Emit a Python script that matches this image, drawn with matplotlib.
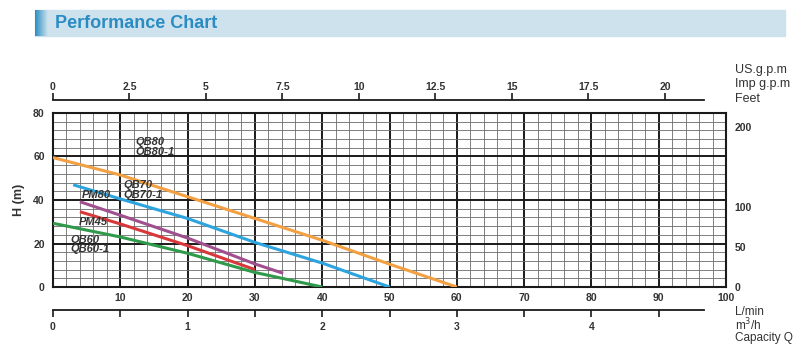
import matplotlib.pyplot as plt
from matplotlib.colors import LinearSegmentedColormap
from matplotlib.patches import Rectangle
import numpy as np

plt.rcParams['font.family'] = ['Liberation Sans', 'DejaVu Sans']

# pump curves, capacity Q (L/min) vs head H (m)
qb80_q = [0, 10, 20, 30, 40, 50, 60]
qb80_h = [59.5, 51.5, 41.5, 31.5, 21.5, 10.5, 0]
qb70_q = [3, 10, 20, 30, 40, 50]
qb70_h = [47, 40.5, 31.5, 20.5, 11, 0]
pm80_q = [4, 10, 20, 30, 34.2]
pm80_h = [39.2, 33, 22.5, 10.6, 6.3]
pm45_q = [4, 10, 20, 30]
pm45_h = [34.6, 29, 19, 8]
qb60_q = [0, 10, 20, 30, 40]
qb60_h = [29.3, 23, 15.5, 6.7, 0]

curves = [
    (qb80_q, qb80_h, '#f2a042'),
    (qb70_q, qb70_h, '#2ea4df'),
    (pm80_q, pm80_h, '#a0508e'),
    (pm45_q, pm45_h, '#d8383a'),
    (qb60_q, qb60_h, '#2f9a4a'),
]

# curve labels: text, Q, H
curve_labels = [
    ('QB80', 12.2, 66.6), ('QB80-1', 12.2, 62.2),
    ('QB70', 10.4, 47.0), ('QB70-1', 10.4, 42.4),
    ('PM80', 4.3, 42.2), ('PM45', 3.8, 30.0),
    ('QB60', 2.6, 21.8), ('QB60-1', 2.6, 17.5),
]

x_ticks = [10, 20, 30, 40, 50, 60, 70, 80, 90, 100]
y_ticks = [0, 20, 40, 60, 80]
feet_ticks = [0, 50, 100, 200]
gpm_ticks = [0, 2.5, 5, 7.5, 10, 12.5, 15, 17.5, 20]
gpm_labels = ['0', '2.5', '5', '7.5', '10', '12.5', '15', '17.5', '20']
m3h_ticks = [0, 1, 2, 3, 4]

q_max = 100
h_max = 80
scale_end = 96.7        # L/min where the extra scales stop
lmin_per_gpm = 4.546
lmin_per_m3h = 20
m_per_ft = 0.368

txt = '#333333'
W, H = 800, 360
fig = plt.figure(figsize=(8, 3.6), dpi=100)

# title bar
fig.patches.append(Rectangle((35 / W, 1 - 36 / H), 750 / W, 26 / H,
                             transform=fig.transFigure, color='#cde2ed', zorder=0))
grad = np.linspace(0, 1, 50).reshape(1, -1)
gax = fig.add_axes([35 / W, 1 - 36 / H, 13 / W, 26 / H])
gax.set_zorder(2)
gax.imshow(grad, aspect='auto',
           cmap=LinearSegmentedColormap.from_list('g', ['#2b8fc2', '#cde2ed']))
gax.axis('off')
fig.text(55 / W, 1 - 23.5 / H, 'Performance Chart', fontsize=13, fontweight='bold',
         color='#2b8cc4', va='center', ha='left')

# main chart
ax = fig.add_axes([53 / W, 73 / H, 673 / W, 174 / H])
ax.set_xlim(0, q_max)
ax.set_ylim(0, h_max)
for v in np.arange(0, q_max + 1, 2):
    major = v % 10 == 0
    ax.axvline(v, color='#1a1a1a' if major else '#6a6a6a',
               lw=1.4 if major else 0.6, zorder=1)
for v in np.arange(0, h_max + 1, 4):
    major = v % 20 == 0
    ax.axhline(v, color='#1a1a1a' if major else '#6a6a6a',
               lw=1.4 if major else 0.6, zorder=1)
for s in ax.spines.values():
    s.set_linewidth(1.5)
    s.set_color('#1a1a1a')

for q, h, c in curves:
    ax.plot(q, h, color=c, lw=2.2, solid_capstyle='butt', zorder=3)

for t, q, h in curve_labels:
    ax.text(q, h, t, fontsize=8, fontweight='bold', fontstyle='italic',
            color=txt, va='center', ha='left', zorder=4)

ax.set_xticks(x_ticks)
ax.set_yticks(y_ticks)
ax.tick_params(length=0, labelsize=7.5, labelcolor=txt, pad=4)
ax.tick_params(axis='y', pad=6)
for lab in ax.get_xticklabels() + ax.get_yticklabels():
    lab.set_fontweight('bold')
ax.set_ylabel('H (m)', fontsize=9, fontweight='bold', color=txt, labelpad=6)

# feet on the right
axr = ax.twinx()
axr.set_ylim(0, h_max / m_per_ft)
axr.set_yticks(feet_ticks)
axr.tick_params(length=0, labelsize=7.5, labelcolor=txt, pad=6)
for lab in axr.get_yticklabels():
    lab.set_fontweight('bold')
for s in axr.spines.values():
    s.set_visible(False)

# gallons scale on top
x0 = 53 / W
w_ext = 673 / W * scale_end / q_max
axt = fig.add_axes([x0, 1 - 100 / H, w_ext, 0.0001])
axt.set_xlim(0, scale_end / lmin_per_gpm)
axt.patch.set_visible(False)
for k in ['left', 'right', 'bottom']:
    axt.spines[k].set_visible(False)
axt.spines['top'].set_linewidth(1.3)
axt.spines['top'].set_color('#1a1a1a')
axt.set_yticks([])
axt.xaxis.set_ticks_position('top')
axt.set_xticks(gpm_ticks)
axt.set_xticklabels(gpm_labels)
axt.tick_params(axis='x', direction='out', length=5, width=1.2, color='#1a1a1a',
                labelsize=7.5, labelcolor=txt, pad=1)
for lab in axt.get_xticklabels():
    lab.set_fontweight('bold')

# m3/h scale at the bottom
axb = fig.add_axes([x0, 1 - 310 / H, w_ext, 0.0001])
axb.set_xlim(0, scale_end / lmin_per_m3h)
axb.patch.set_visible(False)
for k in ['left', 'right', 'top']:
    axb.spines[k].set_visible(False)
axb.spines['bottom'].set_linewidth(1.3)
axb.spines['bottom'].set_color('#1a1a1a')
axb.set_yticks([])
axb.set_xticks(m3h_ticks)
axb.set_xticks(np.arange(0.5, 4.6, 1.0), minor=True)
axb.tick_params(axis='x', which='both', direction='out', length=5, width=1.2,
                color='#1a1a1a', labelsize=7.5, labelcolor=txt, pad=4)
for lab in axb.get_xticklabels():
    lab.set_fontweight('bold')

# unit names
for i, t in enumerate(['US.g.p.m', 'Imp g.p.m', 'Feet']):
    fig.text(735 / W, 1 - (70 + 14.5 * i) / H, t, fontsize=9, color=txt,
             va='center', ha='left')
for i, t in enumerate(['L/min', 'm$^3$/h', 'Capacity Q']):
    fig.text(735 / W, 1 - (312 + 13 * i) / H, t, fontsize=8.5, color=txt,
             va='center', ha='left')

fig.savefig('out.png', dpi=100)
